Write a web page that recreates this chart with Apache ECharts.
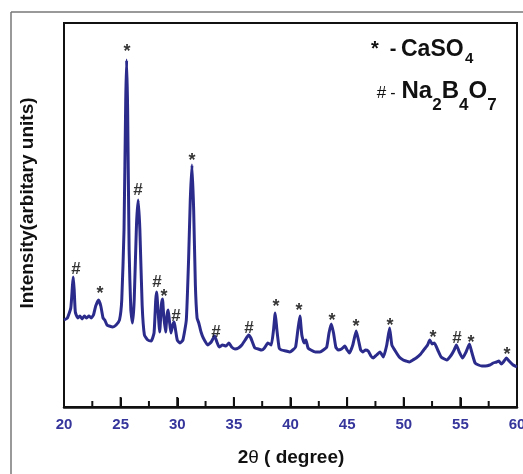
<!DOCTYPE html>
<html>
<head>
<meta charset="utf-8">
<script src="https://cdn.jsdelivr.net/npm/echarts@6/dist/echarts.min.js"></script>
<style>
  html, body { margin: 0; padding: 0; background: #fff; }
  #chart { width: 523px; height: 474px; }
</style>
</head>
<body>
<div id="chart"></div>
<script>
// XRD pattern, 2θ (degree) vs intensity (arbitrary units)
const twoTheta = [
  20.0, 20.3, 20.6, 20.75, 20.82, 20.9, 21.0, 21.2, 21.4, 21.6, 21.8, 22.0, 22.2, 22.4, 22.6, 22.8,
  23.05, 23.25, 23.45, 23.6, 23.8, 24.0, 24.3, 24.6, 24.9, 25.1, 25.3, 25.45, 25.53, 25.62, 25.75, 25.9,
  26.05, 26.2, 26.4, 26.55, 26.7, 26.9, 27.1, 27.4, 27.7, 27.95, 28.1, 28.18, 28.3, 28.45, 28.6, 28.7,
  28.8, 28.97, 29.1, 29.2, 29.3, 29.44, 29.6, 29.73, 29.85, 30.0, 30.24, 30.5, 30.8, 31.0, 31.15, 31.3,
  31.45, 31.6, 31.75, 31.9, 32.1, 32.3, 32.7, 33.0, 33.3, 33.5, 33.7, 34.0, 34.3, 34.56, 34.8, 35.1,
  35.4, 35.7, 36.0, 36.3, 36.5, 36.85, 37.15, 37.45, 37.7, 38.0, 38.3, 38.5, 38.65, 38.8, 39.0, 39.2,
  39.6, 39.94, 40.2, 40.45, 40.65, 40.83, 41.0, 41.2, 41.36, 41.55, 41.8, 42.2, 42.6, 42.9, 43.2, 43.4,
  43.6, 43.8, 44.0, 44.2, 44.5, 44.8, 45.0, 45.2, 45.5, 45.8, 46.0, 46.2, 46.4, 46.6, 46.86, 47.1,
  47.3, 47.6, 47.9, 48.2, 48.5, 48.75, 48.95, 49.2, 49.6, 49.95, 50.2, 50.5, 50.8, 51.1, 51.5, 51.9,
  52.1, 52.3, 52.5, 52.7, 53.0, 53.3, 53.8, 54.2, 54.45, 54.65, 54.9, 55.2, 55.5, 55.8, 56.0, 56.3,
  56.6, 56.9, 57.2, 57.6, 57.9, 58.2, 58.4, 58.6, 58.8, 59.07, 59.3, 59.66, 60.0
];
const intensity = [
  87, 89, 99, 122, 130, 117, 95, 89, 91, 88, 91, 89, 91, 89, 92, 101,
  107, 101, 89, 87, 82, 81, 80, 82, 87, 107, 177, 307, 347, 297, 157, 97,
  84, 107, 182, 207, 177, 102, 72, 67, 66, 74, 107, 115, 97, 75, 102, 108,
  92, 75, 92, 97, 87, 74, 82, 85, 77, 67, 64, 67, 87, 147, 207, 242,
  197, 122, 89, 84, 75, 69, 62, 65, 71, 65, 60, 62, 61, 64, 60, 58,
  59, 62, 67, 72, 69, 59, 58, 57, 59, 64, 62, 77, 94, 77, 59, 57,
  56, 55, 57, 60, 77, 91, 72, 64, 67, 59, 57, 55, 55, 57, 60, 74,
  83, 74, 60, 57, 58, 61, 57, 54, 62, 76, 67, 57, 55, 57, 56, 51,
  49, 52, 55, 50, 62, 79, 62, 57, 50, 47, 46, 45, 47, 49, 53, 59,
  62, 67, 63, 64, 57, 50, 47, 52, 57, 62, 55, 49, 55, 63, 55, 44,
  42, 41, 41, 42, 44, 45, 46, 43, 45, 49, 46, 42, 40
];

// phase markers above the peaks (* CaSO4, # Na2B4O7)
const markX = [21.06, 23.18, 25.56, 26.53, 28.21, 28.83, 29.89, 31.30, 33.42, 36.34,
               38.72, 40.75, 43.66, 45.78, 48.79, 52.58, 54.70, 55.94, 59.12];
const markY = [138, 117, 359, 217, 125, 114, 91, 250, 75, 79,
               104, 100, 90, 84, 85, 73, 69, 68, 56];
const markSym = ['#', '*', '*', '#', '#', '*', '#', '*', '#', '#',
                 '*', '*', '*', '*', '*', '*', '#', '*', '*'];

const xTicks = { min: 20, max: 60, interval: 5 };

const FONT = '"Liberation Sans", Arial, Helvetica, sans-serif';
const LINE = '#2b2b8c';
const TICKLBL = '#35359c';

const chart = echarts.init(document.getElementById('chart'), null, { renderer: 'canvas' });

const lineData = twoTheta.map((x, i) => [x, intensity[i]]);
// asterisks sit high in the em box, so they get nudged down a bit
const markData = markX.map((x, i) => ({
  value: [x, markY[i]], name: markSym[i],
  label: markSym[i] === '*' ? { fontSize: 18, offset: [0, 4] } : { fontSize: 17 }
}));

// text pieces for the legend box (top right)
const txt = (text, x, y, size, weight, align) => ({
  type: 'text', x: x, y: y, silent: true,
  style: { text: text, fill: '#111', font: `${weight} ${size}px ${FONT}`, align: align || 'left', verticalAlign: 'middle' }
});

const baseGraphic = [
  // outer figure frame
  { type: 'line', silent: true, shape: { x1: 11, y1: 12, x2: 11, y2: 474 }, style: { stroke: '#777', lineWidth: 1.5 } },
  { type: 'line', silent: true, shape: { x1: 11, y1: 12, x2: 523, y2: 12 }, style: { stroke: '#777', lineWidth: 1.5 } },
  // axis titles
  {
    type: 'text', x: 28, y: 203, rotation: Math.PI / 2, silent: true,
    style: { text: 'Intensity(arbitary units)', fill: '#111', font: `bold 19px ${FONT}`, align: 'center', verticalAlign: 'middle' }
  },
  {
    type: 'text', x: 291, y: 458, silent: true,
    style: {
      text: '2{t|θ} ( degree)', fill: '#111', font: `bold 19px ${FONT}`, align: 'center', verticalAlign: 'middle',
      rich: { t: { fontFamily: FONT, fontWeight: 'normal', fontSize: 19, fill: '#111' } }
    }
  },
  // legend: * - CaSO4
  txt('*', 375, 49, 20, 'bold', 'center'),
  txt('-', 393, 49, 20, 'bold', 'center'),
  txt('CaSO', 401, 49.4, 23, 'bold'),
  txt('4', 465, 59, 15, 'bold'),
  // legend: # - Na2B4O7
  txt('#', 381.5, 93, 17, 'normal', 'center'),
  txt('-', 393, 94, 16, 'normal', 'center'),
  txt('Na', 401.5, 91.4, 24, 'bold'),
  txt('2', 432.2, 104.9, 17, 'bold'),
  txt('B', 441.7, 91.4, 24, 'bold'),
  txt('4', 459, 104.9, 17, 'bold'),
  txt('O', 468.5, 91.4, 24, 'bold'),
  txt('7', 487.2, 104.9, 17, 'bold')
];

chart.setOption({
  backgroundColor: '#fff',
  animation: false,
  grid: {
    left: 64, top: 23, right: 6, bottom: 67, outerBoundsMode: 'none',
    show: true, borderColor: '#111', borderWidth: 2, backgroundColor: 'transparent'
  },
  xAxis: {
    type: 'value', min: xTicks.min, max: xTicks.max, interval: xTicks.interval,
    axisLine: { show: true, onZero: false, lineStyle: { color: '#111', width: 2.5 } },
    axisTick: { show: true, inside: true, length: 9, lineStyle: { color: '#111', width: 2 } },
    axisLabel: { margin: 10, color: TICKLBL, fontFamily: FONT, fontWeight: 'bold', fontSize: 15 },
    splitLine: { show: false }
  },
  yAxis: {
    type: 'value', min: 0, max: 384,
    axisLine: { show: false }, axisTick: { show: false }, axisLabel: { show: false }, splitLine: { show: false }
  },
  series: [
    {
      type: 'line', data: lineData, showSymbol: false, smooth: 0.15,
      lineStyle: { color: LINE, width: 3 }, z: 3
    },
    {
      type: 'scatter', data: markData, symbol: 'circle', symbolSize: 1, z: 4,
      itemStyle: { color: 'rgba(0,0,0,0)' },
      label: {
        show: true, position: 'inside', color: '#000', fontFamily: FONT, fontWeight: 'bold',
        formatter: (p) => p.name
      }
    }
  ],
  graphic: baseGraphic
});

// inward ticks on the bottom axis (major every 5, minor halfway), placed through the axis scale
const tickGraphic = [];
for (let v = xTicks.min; v <= xTicks.max; v += xTicks.interval / 2) {
  const p = chart.convertToPixel({ gridIndex: 0 }, [v, 0]);
  const len = v % xTicks.interval === 0 ? 9 : 5;
  tickGraphic.push({
    type: 'line', silent: true, z: 100,
    shape: { x1: p[0], y1: p[1] - 1, x2: p[0], y2: p[1] - 1 - len },
    style: { stroke: '#111', lineWidth: 2 }
  });
}
chart.setOption({ graphic: baseGraphic.concat(tickGraphic) });
</script>
</body>
</html>
